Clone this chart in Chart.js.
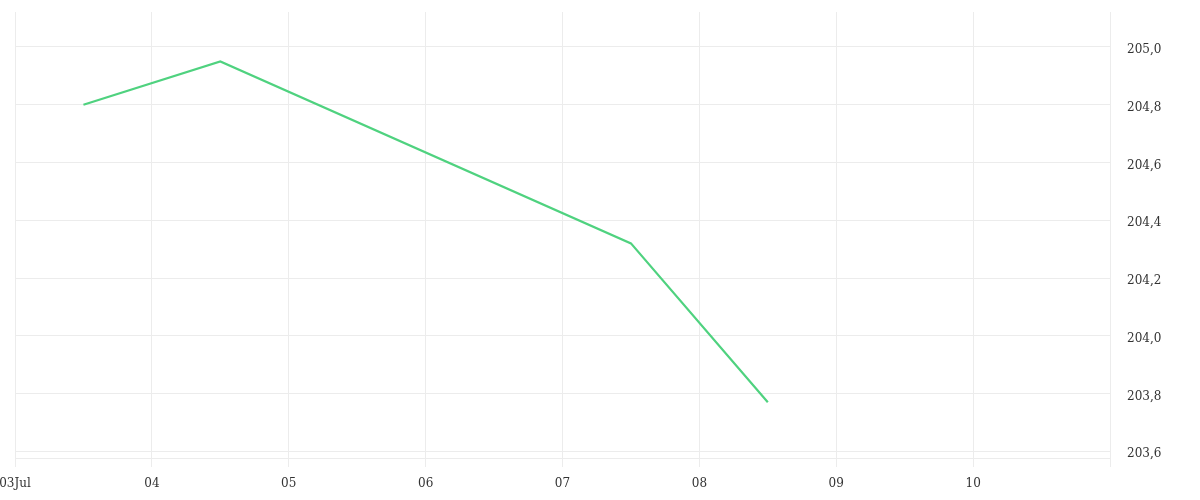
<!DOCTYPE html>
<html>
<head>
<meta charset="utf-8">
<script src="https://cdn.jsdelivr.net/npm/chart.js@4"></script>
<style>
  body { margin: 0; background: #fff; }
  #wrap { width: 1200px; height: 500px; }
</style>
</head>
<body>
<div id="wrap"><canvas id="myChart"></canvas></div>
<script>
// data: day of july (12:00 of each day) and price
const days = [3.5, 4.5, 7.5, 8.5]
const prices = [204.80, 204.95, 204.32, 203.77]

const xTicks = [3, 4, 5, 6, 7, 8, 9, 10, 11]
const xLabels = ['03Jul', '04', '05', '06', '07', '08', '09', '10', '']
const yTicks = [203.6, 203.8, 204.0, 204.2, 204.4, 204.6, 204.8, 205.0]

const gridColor = '#ececec'
const textColor = '#333'

Chart.defaults.font.family = '"DejaVu Serif", serif'
Chart.defaults.font.size = 12
Chart.defaults.color = textColor

const ctx = document.getElementById('myChart').getContext('2d')
const myChart = new Chart(ctx, {
  type: 'line',
  data: {
    datasets: [{
      data: days.map((d, i) => ({ x: d, y: prices[i] })),
      borderColor: '#4fd27f',
      borderWidth: 2.2,
      pointRadius: 0,
      tension: 0
    }]
  },
  options: {
    responsive: true,
    maintainAspectRatio: false,
    animation: false,
    layout: { padding: 0 },
    scales: {
      x: {
        type: 'linear',
        min: 3,
        max: 11,
        afterBuildTicks: (scale) => { scale.ticks = xTicks.map(v => ({ value: v })) },
        afterFit: (scale) => {
          scale.height = 42
          scale.paddingLeft = 15
          scale.paddingRight = 0
        },
        border: { display: true, color: gridColor },
        grid: { color: gridColor, tickLength: 9 },
        ticks: {
          autoSkip: false,
          maxRotation: 0,
          padding: 10,
          callback: (v) => xLabels[xTicks.indexOf(v)]
        }
      },
      y: {
        position: 'right',
        min: 203.577,
        max: 205.121,
        afterBuildTicks: (scale) => { scale.ticks = yTicks.map(v => ({ value: v })) },
        afterFit: (scale) => {
          scale.width = 90
          scale.paddingTop = 12
          scale.paddingBottom = 0
        },
        border: { display: false },
        grid: { color: gridColor, drawTicks: false },
        ticks: {
          padding: 17,
          labelOffset: 3,
          callback: (v) => v.toFixed(1).replace('.', ',')
        }
      }
    },
    plugins: {
      legend: { display: false },
      tooltip: { enabled: false }
    }
  }
})
</script>
</body>
</html>
